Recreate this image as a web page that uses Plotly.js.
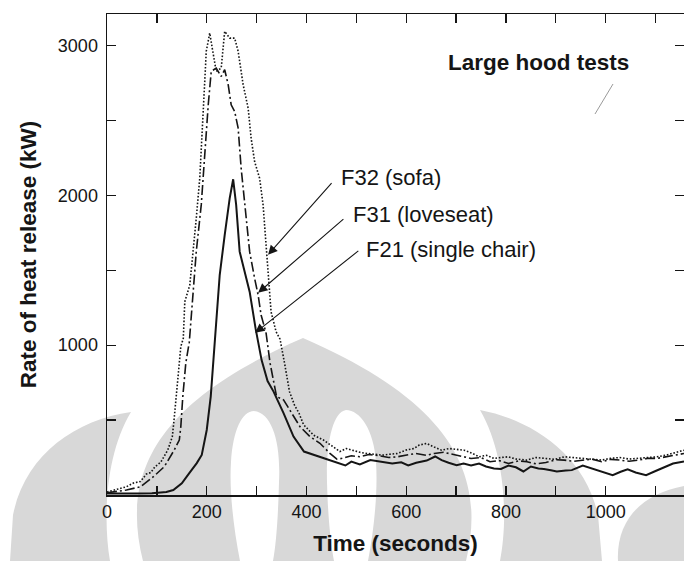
<!DOCTYPE html>
<html><head><meta charset="utf-8">
<script src="https://cdn.plot.ly/plotly-3.0.1.min.js"></script>
<style>
html,body{margin:0;padding:0;background:#fff;overflow:hidden}
#wrap{position:relative;width:684px;height:561px}
#wm{position:absolute;left:0;top:0}
#chart{position:absolute;left:0;top:0;width:684px;height:561px}
</style></head><body>
<div id="wrap">
<svg id="wm" width="684" height="561" xmlns="http://www.w3.org/2000/svg">
  <g fill="#d8d8d8">
    <path d="M131,412 C75,420 25,455 13,515 L10,561 L110,561 C103,520 105,455 131,412 Z"/>
    <path fill-rule="evenodd" d="M143,561 C120,470 160,400 303,338 C446,400 488,470 466,561 Z
      M254,411 C272,413 281,442 279,482 C278,520 276,545 273,561 L240,561 C234,530 229,492 231,462 C233,430 242,411 254,411 Z
      M346,410 C333,412 326,442 327,482 C328,520 331,545 334,561 L368,561 C374,530 378,492 376,462 C374,430 360,410 346,410 Z"/>
    <path d="M480,410 C532,420 585,455 598,515 L602,561 L500,561 C508,520 506,455 480,410 Z"/>
    <path d="M618,561 C616,522 640,494 684,486 L684,561 Z"/>
  </g>
  <path d="M613,84 L595,114" stroke="#9a9a9a" stroke-width="1"/>
</svg>
<div id="chart"></div></div>
<script>
// F21 (single chair) - solid
const t21 = [0,30,60,90,119,133,150,165,180,190,200,208,213,218,226,236,246,253,259,266,276,286,298,310,322,334,354,374,395,415,435,455,467,478,490,507,528,544,572,590,604,620,641,658,671,685,701,715,730,746,760,776,790,805,820,835,850,865,876,890,902,920,932,954,970,992,1008,1014,1030,1044,1060,1081,1100,1118,1135,1157];
const f21 = [10,8,10,12,20,33,78,146,213,267,434,657,880,1150,1468,1735,1980,2107,1936,1624,1490,1357,1110,900,760,690,546,390,290,267,245,223,205,197,223,204,233,224,210,218,197,215,230,257,233,215,199,210,197,210,190,177,174,197,185,157,190,177,174,165,157,163,166,197,180,157,137,132,155,172,150,132,160,184,210,224];
// F31 (loveseat) - dash-dot
const t31 = [0,20,39,67,93,115,135,145,148,152,158,165,173,179,189,196,203,209,219,229,236,243,249,256,263,269,279,286,296,303,309,319,327,340,354,367,374,387,407,427,447,461,470,490,507,525,544,565,582,600,619,640,656,675,693,712,730,750,768,786,805,825,842,860,880,900,917,935,954,972,992,1010,1028,1047,1066,1085,1103,1120,1133,1157];
const f31 = [15,25,33,55,122,189,301,367,456,657,880,1020,1357,1624,1936,2292,2604,2827,2849,2793,2838,2738,2604,2560,2448,2181,1847,1624,1446,1335,1201,1080,880,657,635,568,523,456,390,345,278,240,244,262,255,270,263,250,255,268,277,265,277,285,270,258,244,250,222,230,210,228,222,208,217,235,233,225,233,240,222,238,233,225,233,245,244,255,266,277];
// F32 (sofa) - dotted
const t32 = [0,26,39,53,67,79,88,96,108,122,131,135,142,148,153,156,166,173,179,186,193,196,199,206,211,219,229,236,246,256,263,273,283,289,296,306,313,319,326,329,339,347,356,366,376,385,394,414,434,454,467,480,492,507,522,537,552,567,582,600,615,626,641,656,671,686,701,716,731,746,761,776,790,805,820,842,860,880,898,917,935,954,973,992,1010,1028,1047,1066,1085,1103,1120,1133,1157];
const f32 = [20,45,55,80,90,140,150,188,220,301,390,520,750,990,1045,1290,1401,1624,1847,2114,2515,2760,2960,3083,2983,2827,2849,3094,3049,3049,2960,2738,2582,2381,2225,2114,1936,1669,1401,1223,1090,1040,880,689,600,546,470,400,367,323,290,310,299,285,277,270,266,272,277,300,310,333,344,320,299,310,305,299,280,255,265,244,250,255,240,233,250,244,238,255,250,244,238,233,245,250,240,244,250,255,265,277,299];

const seriesNames = ['F32 (sofa)','F31 (loveseat)','F21 (single chair)'];
// arrow heads (on curves) and tails (near labels), in data units
const headT = [323,303,297];
const headV = [1603,1349,1082];
const tailT = [453,477,507];
const tailV = [2091,1850,1637];
const labelT = [466,490,516];
const labelV = [2118,1870,1637];

const ink = '#151515';
const traces = [
  {x:t32, y:f32, mode:'lines', name:seriesNames[0], line:{color:ink, width:1.6, dash:'1.6px,1.8px'}},
  {x:t31, y:f31, mode:'lines', name:seriesNames[1], line:{color:ink, width:1.6, dash:'10px,3px,2px,3px'}},
  {x:t21, y:f21, mode:'lines', name:seriesNames[2], line:{color:ink, width:2}}
];

const annotations = [];
for (let i=0;i<3;i++){
  annotations.push({x:headT[i], y:headV[i], ax:tailT[i], ay:tailV[i], axref:'x', ayref:'y', xref:'x', yref:'y',
    text:'', showarrow:true, arrowhead:2, arrowsize:1.7, arrowwidth:1.1, arrowcolor:ink});
  annotations.push({x:labelT[i], y:labelV[i], xref:'x', yref:'y', text:seriesNames[i], showarrow:false,
    xanchor:'left', yanchor:'middle', font:{size:22, color:ink}});
}
annotations.push({x:0.588, y:0.899, xref:'paper', yref:'paper', text:'<b>Large hood tests</b>', showarrow:false,
  xanchor:'left', yanchor:'middle', font:{size:22.5, color:ink}});

const fontFam = 'Liberation Sans, Arial, Helvetica, sans-serif';
const layout = {
  width:684, height:561,
  margin:{l:107, r:0, t:14, b:66, pad:0},
  paper_bgcolor:'rgba(0,0,0,0)', plot_bgcolor:'rgba(0,0,0,0)',
  showlegend:false,
  font:{family:fontFam, color:ink},
  xaxis:{range:[0,1157], tick0:0, dtick:200, ticks:'inside', ticklen:9, tickwidth:1.3, tickcolor:ink,
    showline:true, linecolor:ink, linewidth:1.5, mirror:'allticks', showgrid:false, zeroline:false,
    minor:{tick0:0, dtick:100, ticks:'inside', ticklen:9, tickwidth:1.3, tickcolor:ink},
    tickfont:{size:18, color:ink},
    title:{text:'<b>Time (seconds)</b>', font:{size:22.5, color:ink}, standoff:14}},
  yaxis:{range:[0,3210], tickmode:'array', tickvals:[1000,2000,3000], ticktext:['1000','2000','3000'],
    ticks:'inside', ticklen:9, tickwidth:1.3, tickcolor:ink,
    showline:true, linecolor:ink, linewidth:1.5, mirror:'allticks', showgrid:false, zeroline:false,
    minor:{tickmode:'array', tickvals:[500,1500,2500], ticks:'inside', ticklen:9, tickwidth:1.3, tickcolor:ink},
    tickfont:{size:18, color:ink}, ticklabelstandoff:4,
    title:{text:'<b>Rate of heat release (kW)</b>', font:{size:22.5, color:ink}, standoff:15}},
  annotations:annotations
};
Plotly.newPlot('chart', traces, layout, {displayModeBar:false, staticPlot:true});
</script>
</body></html>
